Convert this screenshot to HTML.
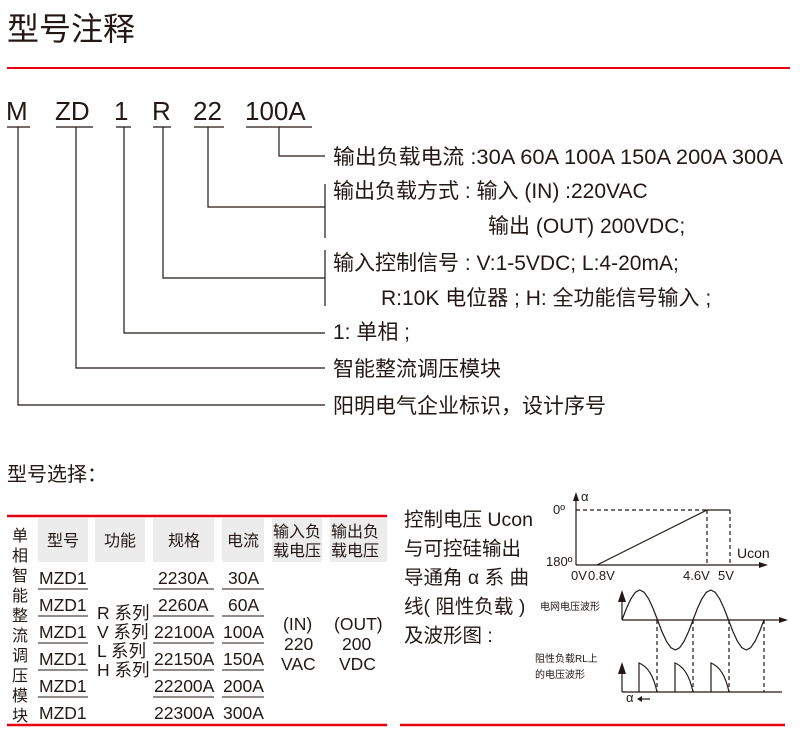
<!DOCTYPE html><html><head><meta charset="utf-8"><style>
body{margin:0;width:800px;height:742px;background:#fff;position:relative;overflow:hidden;font-family:"Liberation Sans","Noto Sans CJK SC",sans-serif;color:#231815}
.a{position:absolute;white-space:nowrap;line-height:1}
</style></head><body>
<div class="a" style="left:7px;top:13px;font-size:32px">型号注释</div>
<div class="a" style="left:7px;top:465px;font-size:20px">型号选择：</div>
<svg width="800" height="742" style="position:absolute;left:0;top:0" font-family="Liberation Sans, Noto Sans CJK SC, sans-serif" fill="#231815">
<line x1="7" y1="68" x2="790" y2="68" stroke="#e60012" stroke-width="2"/>
<g font-size="26"><text x="6" y="120">M</text><text x="55" y="120">ZD</text><text x="114" y="120">1</text><text x="152" y="120">R</text><text x="193" y="120">22</text><text x="245" y="120">100A</text></g>
<g stroke="#231815" stroke-width="1.2" fill="none">
<path d="M7 127H30M56 127H93M116 127H131M153 127H171M194 127H224M246 127H312"/>
<path d="M18 127V405H325M76 127V368H325M124 127V333H325M163 127V278H325M208 127V207H325M279 127V156H325"/>
<path d="M325 184V238M325 250V306"/>
</g>
<g font-size="21">
<text x="333" y="164" textLength="450" lengthAdjust="spacingAndGlyphs">输出负载电流 :30A 60A 100A 150A 200A 300A</text>
<text x="333" y="198">输出负载方式 : 输入 (IN) :220VAC</text>
<text x="488" y="233">输出 (OUT) 200VDC;</text>
<text x="333" y="270">输入控制信号 : V:1-5VDC; L:4-20mA;</text>
<text x="381" y="305">R:10K 电位器 ; H: 全功能信号输入 ;</text>
<text x="333" y="339">1: 单相 ;</text>
<text x="333" y="376">智能整流调压模块</text>
<text x="333" y="413">阳明电气企业标识，设计序号</text>
</g>
<line x1="7" y1="516" x2="387" y2="516" stroke="#e60012" stroke-width="2.5"/>
<line x1="7" y1="725" x2="387" y2="725" stroke="#e60012" stroke-width="2.5"/>
<g fill="#ececec"><rect x="38" y="518" width="50" height="44"/><rect x="95" y="518" width="50" height="44"/><rect x="153" y="518" width="61" height="44"/><rect x="222" y="518" width="42" height="44"/><rect x="272" y="518" width="50" height="44"/><rect x="330" y="518" width="57" height="44"/></g>
<g font-size="16"><text x="47" y="546">型号</text><text x="104" y="546">功能</text><text x="168" y="546">规格</text><text x="227" y="546">电流</text>
<text x="273" y="537">输入负</text><text x="273" y="556">载电压</text><text x="331" y="537">输出负</text><text x="331" y="556">载电压</text></g>
<g font-size="16">
<text x="12" y="541">单</text><text x="12" y="561">相</text><text x="12" y="581">智</text><text x="12" y="601">能</text><text x="12" y="621">整</text><text x="12" y="641">流</text><text x="12" y="661">调</text><text x="12" y="681">压</text><text x="12" y="701">模</text><text x="12" y="721">块</text>
</g>
<g stroke="#231815" stroke-width="1"><path d="M38 589H88M38 616H88M38 643H88M38 670H88M38 697H88M153 589H214M153 616H214M153 643H214M153 670H214M153 697H214M222 589H264M222 616H264M222 643H264M222 670H264M222 697H264"/></g>
<g font-size="17.5">
<text x="39" y="584">MZD1</text><text x="39" y="611">MZD1</text><text x="39" y="638">MZD1</text><text x="39" y="665">MZD1</text><text x="39" y="692">MZD1</text><text x="39" y="719">MZD1</text>
<text x="158" y="584">2230A</text><text x="158" y="611">2260A</text><text x="154" y="638">22100A</text><text x="154" y="665">22150A</text><text x="154" y="692">22200A</text><text x="154" y="719">22300A</text>
<text x="228" y="584">30A</text><text x="228" y="611">60A</text><text x="223" y="638">100A</text><text x="223" y="665">150A</text><text x="223" y="692">200A</text><text x="223" y="719">300A</text>
<text x="97" y="619">R 系列</text><text x="97" y="638">V 系列</text><text x="97" y="657">L 系列</text><text x="97" y="676">H 系列</text>
<text x="283" y="630">(IN)</text><text x="284" y="650">220</text><text x="281" y="670">VAC</text>
<text x="334" y="630">(OUT)</text><text x="342" y="650">200</text><text x="339" y="670">VDC</text>
</g>
<g font-size="19.5"><text x="404" y="526">控制电压 Ucon</text><text x="404" y="555">与可控硅输出</text><text x="404" y="584">导通角 α 系 曲</text><text x="404" y="613">线( 阻性负载 )</text><text x="404" y="642">及波形图 :</text></g>
<g stroke="#231815" stroke-width="1.2" fill="none">
<path d="M576 565V498M576 565H762"/>
<path d="M597 565L707 510H730"/>
<path d="M576 510H707M707 510V565M730 510V565" stroke-dasharray="4,3"/>
<path d="M622 620H782M622 692H782"/>
<path d="M622 620V595M622 692V666"/>
<polyline points="622,620 626.4,608.5 630.9,598.8 635.3,592.3 639.8,590 644.2,592.3 648.6,598.8 653.1,608.5 657.5,620 661.9,631.5 666.4,641.2 670.8,647.7 675.3,650 679.7,647.7 684.1,641.2 688.6,631.5 693,620 697.4,608.5 701.9,598.8 706.3,592.3 710.8,590 715.2,592.3 719.6,598.8 724.1,608.5 728.5,620 732.9,631.5 737.4,641.2 741.8,647.7 746.3,650 750.7,647.7 755.1,641.2 759.6,631.5 764,620"/>
<path d="M639 692V663Q652 668 657 692M675 692V663Q688 668 693 692M711 692V663Q724 668 729 692"/>
<path d="M657 620V692M693 620V692M729 620V692M764 620V692" stroke-dasharray="4,3"/>
<path d="M640 699H650"/>
</g>
<polygon points="576,492 573,501 579,501"/><polygon points="768,565 759,562 759,568"/>
<polygon points="622,590 618,602 626,602"/><polygon points="622,662 618,674 626,674"/><polygon points="788,620 779,617 779,623"/>
<polygon points="637,699 642,696 642,702"/>
<g font-size="13"><text x="581" y="501">α</text><text x="553" y="514">0º</text><text x="546" y="566">180º</text><text x="571" y="580">0V</text><text x="588" y="580">0.8V</text><text x="683" y="580">4.6V</text><text x="718" y="580">5V</text><text x="737" y="558" font-size="14">Ucon</text><text x="626" y="702" font-size="13">α</text></g>
<g font-size="10"><text x="540" y="610">电网电压波形</text><text x="535" y="662">阻性负载RL上</text><text x="535" y="678">的电压波形</text></g>
<line x1="400" y1="725" x2="785" y2="725" stroke="#e60012" stroke-width="2.5"/>
</svg>
</body></html>
